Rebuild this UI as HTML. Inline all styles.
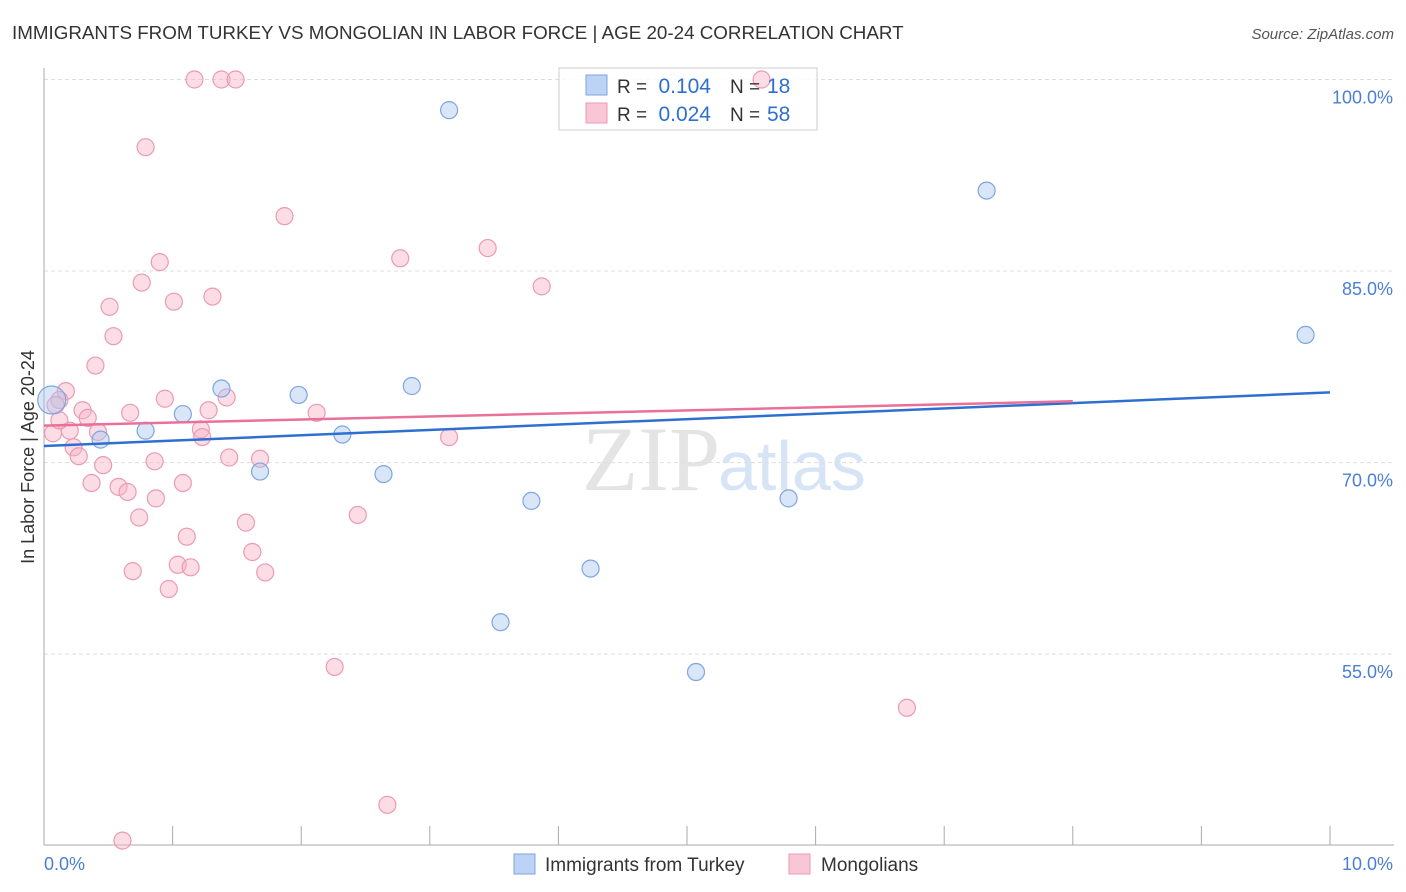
<!DOCTYPE html>
<html><head><meta charset="utf-8"><style>
body{margin:0;background:#fff;font-family:"Liberation Sans",sans-serif}
#wrap{position:relative;width:1406px;height:892px;overflow:hidden}
</style></head><body>
<div id="wrap">
<svg id="svg" width="1406" height="892"></svg>
</div>
<script>
const yTicks=[100,85,70,55];
const yTickLabels=["100.0%","85.0%","70.0%","55.0%"];
const xEndLabels=["0.0%","10.0%"];
const turkeyX=[0.06,0.79,0.44,1.08,1.38,1.98,2.32,1.68,2.64,2.86,3.15,3.79,4.25,3.55,5.07,5.79,7.33,9.81];
const turkeyY=[74.9,72.5,71.8,73.8,75.8,75.3,72.2,69.3,69.1,76.0,97.6,67.0,61.7,57.5,53.6,67.2,91.3,80.0];
const mongX=[1.17,1.38,1.49,5.58,0.79,1.87,2.77,3.45,0.90,3.87,0.76,1.31,1.01,0.51,0.54,0.40,0.17,0.12,0.09,0.94,1.42,0.67,1.28,2.12,0.30,0.34,0.07,0.20,0.42,1.22,1.23,3.15,0.23,0.27,1.44,1.68,0.86,0.46,0.37,0.58,0.65,1.08,0.87,0.74,2.44,1.57,1.11,1.62,1.04,1.14,0.69,1.72,0.97,2.26,6.71,2.67,0.61,0.12];
const mongY=[100,100,100,100,94.7,89.3,86.0,86.8,85.7,83.8,84.1,83.0,82.6,82.2,79.9,77.6,75.6,74.9,74.5,75.0,75.1,73.9,74.1,73.9,74.1,73.5,72.3,72.5,72.4,72.6,72.0,72.0,71.2,70.5,70.4,70.3,70.1,69.8,68.4,68.1,67.7,68.4,67.2,65.7,65.9,65.3,64.2,63.0,62.0,61.8,61.5,61.4,60.1,54.0,50.8,43.2,40.4,73.3];
const turkeyLine=[[0,71.3],[10,75.5]];
const mongLine=[[0,72.9],[8,74.8]];
const X=v=>44+v*128.6;
const Y=v=>79.5+(100-v)*12.77;
const NS="http://www.w3.org/2000/svg";
const svg=document.getElementById('svg');
function mk(t,a,txt){const e=document.createElementNS(NS,t);for(const k in a)e.setAttribute(k,a[k]);if(txt!==undefined)e.textContent=txt;svg.appendChild(e);return e;}
let e;
e=mk('text',{x:12,y:39,'font-size':18.8,fill:'#333'},'IMMIGRANTS FROM TURKEY VS MONGOLIAN IN LABOR FORCE | AGE 20-24 CORRELATION CHART');

e=mk('text',{x:1394,y:39,'font-size':15,fill:'#555','font-style':'italic','text-anchor':'end'},'Source: ZipAtlas.com');

e=mk('text',{x:720,y:490,'font-size':92,fill:'#e4e4e4','font-family':'Liberation Serif','text-anchor':'end'},'ZIP');

e=mk('text',{x:718,y:490,'font-size':70,fill:'#d6e4f5'},'atlas');

yTicks.forEach((t,i)=>{
 e=mk('line',{x1:44,x2:1394,y1:Y(t),y2:Y(t),stroke:'#ddd','stroke-dasharray':'4,3'});
 
 e=mk('text',{x:1393,y:Y(t)+24,'font-size':18,fill:'#4a7fd4','text-anchor':'end'},yTickLabels[i]);
 
});
e=mk('line',{x1:44,x2:44,y1:68,y2:845,stroke:'#aaa'});

e=mk('line',{x1:44,x2:1394,y1:845,y2:845,stroke:'#aaa'});

for(let i=0;i<=10;i++){e=mk('line',{x1:X(i),x2:X(i),y1:826,y2:845,stroke:'#aaa'});
 }
e=mk('text',{x:44,y:870,'font-size':18,fill:'#4a7fd4'},xEndLabels[0]);

e=mk('text',{x:1393,y:870,'font-size':18,fill:'#4a7fd4','text-anchor':'end'},xEndLabels[1]);

e=mk('text',{x:34,y:457,'font-size':18,fill:'#333','text-anchor':'middle',transform:'rotate(-90 34 457)'},'In Labor Force | Age 20-24');

// legend box (semi-transparent, drawn under points)
e=mk('rect',{x:559,y:68,width:258,height:62,fill:'rgba(255,255,255,0.85)',stroke:'#ccc'});

mongX.forEach((v,i)=>{e=mk('circle',{cx:X(v),cy:Y(mongY[i]),r:8.5,fill:'rgba(248,180,200,0.45)',stroke:'#ec9ab4','stroke-width':1.2});
 });
turkeyX.forEach((v,i)=>{e=mk('circle',{cx:X(v),cy:Y(turkeyY[i]),r:i==0?14:8.5,fill:'rgba(170,200,240,0.45)',stroke:'#7ea6e0','stroke-width':1.2});
 });
e=mk('line',{x1:X(turkeyLine[0][0]),y1:Y(turkeyLine[0][1]),x2:X(turkeyLine[1][0]),y2:Y(turkeyLine[1][1]),stroke:'#2f6fd0','stroke-width':2.5});

e=mk('line',{x1:X(mongLine[0][0]),y1:Y(mongLine[0][1]),x2:X(mongLine[1][0]),y2:Y(mongLine[1][1]),stroke:'#e8709a','stroke-width':2.5});

e=mk('rect',{x:586,y:75,width:21,height:20,fill:'#bcd3f5',stroke:'#7ea6e0'});

e=mk('rect',{x:586,y:103,width:21,height:20,fill:'#f9c6d6',stroke:'#ec9ab4'});

const lg=[[93,'0.104','18'],[121,'0.024','58']];
lg.forEach(r=>{
 e=mk('text',{x:617,y:r[0],'font-size':19,fill:'#333'},'R =');
 e=mk('text',{x:711,y:r[0],'font-size':21,fill:'#2f6fd0','text-anchor':'end'},r[1]);
 e=mk('text',{x:730,y:r[0],'font-size':19,fill:'#333'},'N =');
 e=mk('text',{x:767,y:r[0],'font-size':21,fill:'#2f6fd0'},r[2]);
});
e=mk('rect',{x:514,y:854,width:21,height:20,fill:'#bcd3f5',stroke:'#7ea6e0'});

e=mk('text',{x:545,y:871,'font-size':19,fill:'#333'},'Immigrants from Turkey');

e=mk('rect',{x:789,y:854,width:21,height:20,fill:'#f9c6d6',stroke:'#ec9ab4'});

e=mk('text',{x:821,y:871,'font-size':19,fill:'#333'},'Mongolians');

</script>
</body></html>
